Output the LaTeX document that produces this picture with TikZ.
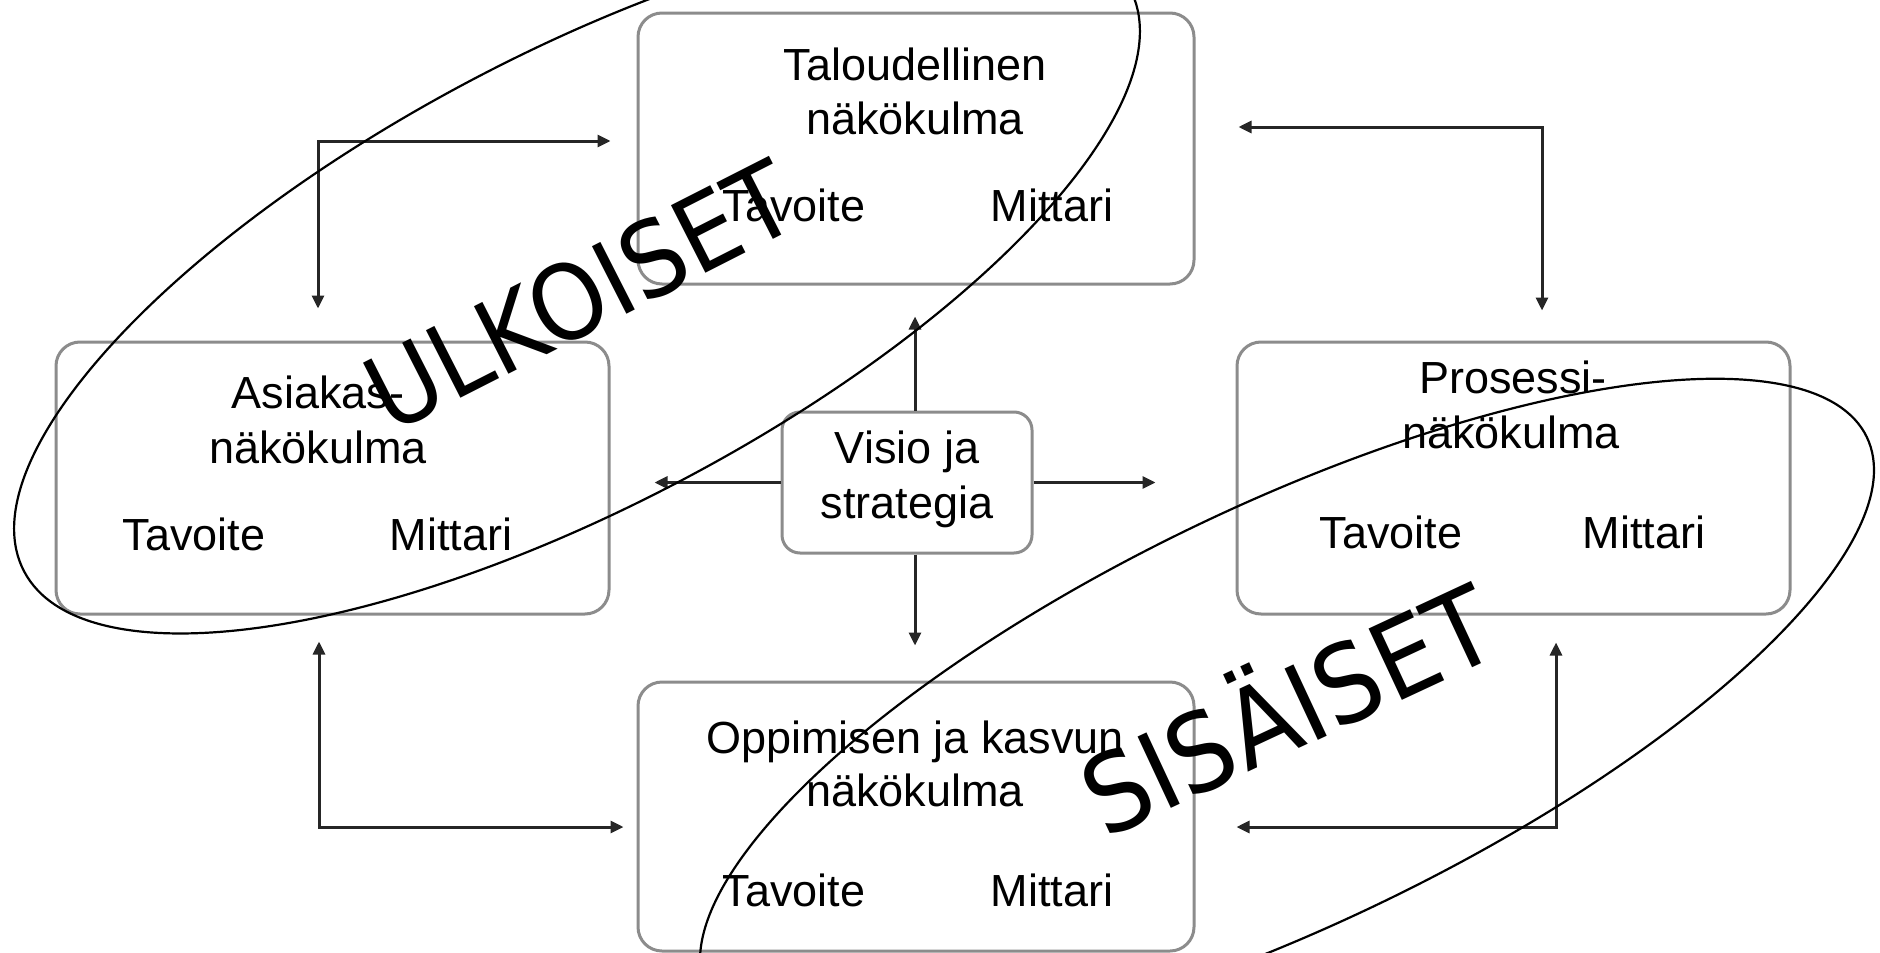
\documentclass[tikz,border=0pt]{standalone}
\usepackage{fontspec}
\setmainfont{Liberation Sans}
\newfontfamily\ovalfont[FakeStretch=0.92]{DejaVu Sans}
\usetikzlibrary{arrows.meta}

\begin{document}
\begin{tikzpicture}[x=1pt,y=-1pt,
  panel/.style={draw=black!45, line width=3pt, rounded corners=24pt, fill=white, inner sep=0pt},
  lbl/.style={inner sep=0pt, anchor=base, text=black, font=\fontsize{45pt}{53pt}\selectfont},
  link/.style={draw=black!85, line width=3pt,
    {Triangle[length=13pt,width=12pt]}-{Triangle[length=13pt,width=12pt]}},
  ray/.style={draw=black!85, line width=3pt, -{Triangle[length=13pt,width=12pt]}},
  oval/.style={draw=black, line width=2.2pt},
  tag/.style={inner sep=0pt, anchor=base, font=\ovalfont\fontsize{104pt}{104pt}\selectfont}
]
\clip (0,0) rectangle (1880,953);
\fill[white] (0,0) rectangle (1880,953);

% the five panels
\node[panel, minimum width=556pt, minimum height=271pt] (T) at (916,148.5) {};
\node[panel, minimum width=553pt, minimum height=272pt] (A) at (332.5,478) {};
\node[panel, minimum width=553pt, minimum height=272pt] (P) at (1513.5,478) {};
\node[panel, minimum width=556pt, minimum height=269pt] (O) at (916,816.5) {};
\node[panel, minimum width=250pt, minimum height=141pt, rounded corners=18pt] (V) at (907,482.5) {};

% panel texts
\node[lbl] (T1) at (915,80) {Taloudellinen};
\node[lbl] (T2) at (915,134) {näkökulma};
\node[lbl] (T3) at (794,221) {Tavoite};
\node[lbl] (T4) at (1052,221) {Mittari};

\node[lbl] (A1) at (318,408) {Asiakas-};
\node[lbl] (A2) at (318,463) {näkökulma};
\node[lbl] (A3) at (194,550) {Tavoite};
\node[lbl] (A4) at (451,550) {Mittari};

\node[lbl] (P1) at (1513,393) {Prosessi-};
\node[lbl] (P2) at (1511,448) {näkökulma};
\node[lbl] (P3) at (1391,548) {Tavoite};
\node[lbl] (P4) at (1644,548) {Mittari};

\node[lbl] (O1) at (915,753) {Oppimisen ja kasvun};
\node[lbl] (O2) at (915,806) {näkökulma};
\node[lbl] (O3) at (794,906) {Tavoite};
\node[lbl] (O4) at (1052,906) {Mittari};

\node[lbl] (V1) at (907,463) {Visio ja};
\node[lbl] (V2) at (907,518) {strategia};

% corner points of the outer loops
\coordinate (ul) at (318,141);
\coordinate (ur) at (1542,127);
\coordinate (ll) at (319,827);
\coordinate (lr) at (1556,827);
\coordinate (vx) at (915,0);

\draw[link] ([yshift=32pt]A.north -| ul) |- ([xshift=-26pt]T.west |- ul);
\draw[link] ([xshift=43pt]T.east |- ur) -| ([yshift=30pt]P.north -| ur);
\draw[link] ([yshift=-26pt]A.south -| ll) |- ([xshift=-13pt]O.west |- ll);
\draw[link] ([yshift=-27pt]P.south -| lr) |- ([xshift=41pt]O.east |- lr);

% rays from the centre panel
\draw[ray] (V.north -| vx) -- ([yshift=-31pt]T.south -| vx);
\draw[ray] (V.south -| vx) -- ([yshift=35pt]O.north -| vx);
\draw[ray] (V.west) -- ([xshift=44pt]A.east |- V.west);
\draw[ray] (V.east) -- ([xshift=-80pt]P.west |- V.east);

% the two groupings
\draw[oval, rotate around={27.8:(577,280)}] (577,280) ellipse [x radius=625pt, y radius=226pt];
\draw[oval, rotate around={25.6:(1287,715)}] (1287,715) ellipse [x radius=643pt, y radius=210pt];

\node[tag, rotate=27] (ulk) at (597,329) {ULKOISET};
\node[tag, rotate=25, font=\ovalfont\fontsize{108pt}{108pt}\selectfont] (sis) at (1305,746) {SISÄISET};
\end{tikzpicture}
\end{document}
